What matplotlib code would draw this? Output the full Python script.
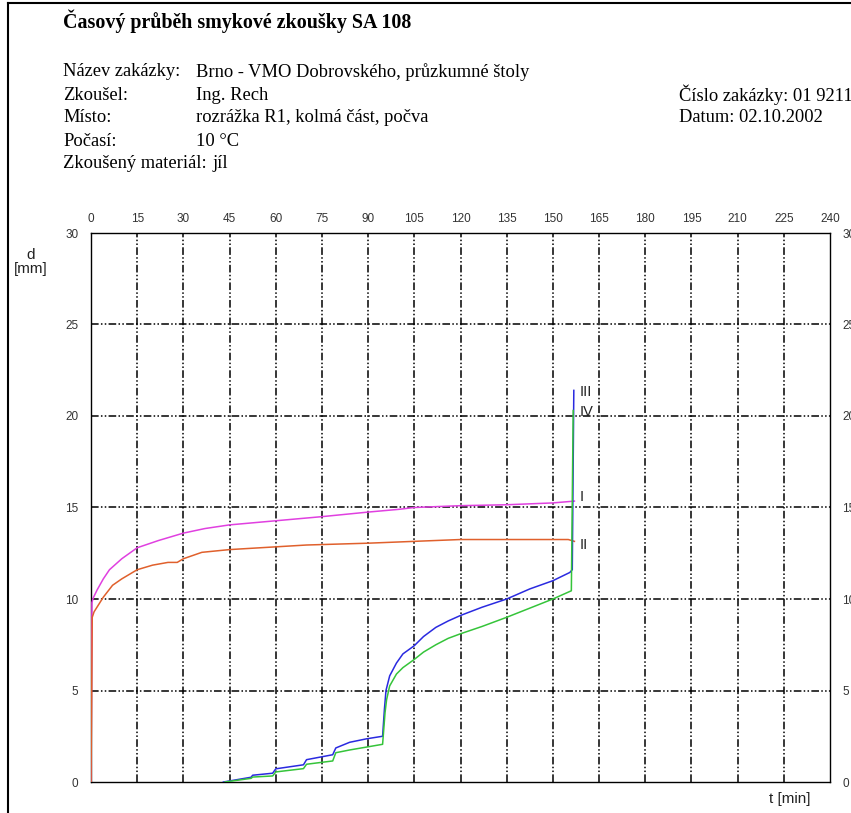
import numpy as np
import matplotlib.pyplot as plt
from matplotlib.lines import Line2D

# time [min] and displacement d [mm]
t_I = [0, 0.3, 0.7, 2, 4, 6, 10, 15, 22, 30, 37, 45, 55, 65, 75, 90, 100, 105, 120, 135, 150, 157]
d_I = [0, 9.8, 10.05, 10.5, 11.1, 11.6, 12.2, 12.8, 13.2, 13.6, 13.85, 14.05, 14.2, 14.35, 14.5, 14.75, 14.9, 15.0, 15.1, 15.15, 15.25, 15.35]

t_II = [0, 0.4, 1, 2.5, 4, 7, 10, 15, 20, 25, 28, 30, 36, 45, 55, 70, 90, 105, 120, 135, 150, 155, 157]
d_II = [0, 9.0, 9.3, 9.7, 10.1, 10.75, 11.1, 11.6, 11.85, 12.0, 12.0, 12.2, 12.55, 12.7, 12.8, 12.95, 13.05, 13.15, 13.25, 13.25, 13.25, 13.25, 13.15]

t_III = [43, 52, 52.5, 59, 60, 69, 70, 78.5, 79.5, 84, 89.5, 94.7, 95.3, 95.8, 97, 99.2, 101.3, 105, 108, 112, 116,
         120, 127, 135, 142.5, 150, 155.5, 156.3, 156.8]
d_III = [0, 0.26, 0.37, 0.48, 0.72, 0.94, 1.22, 1.49, 1.86, 2.17, 2.36, 2.5, 4.0, 5.0, 5.8, 6.5, 7.0, 7.45, 7.95, 8.45, 8.8,
         9.1, 9.55, 10.0, 10.55, 11.0, 11.45, 11.6, 21.4]

t_IV = [43.5, 52, 52.5, 59, 60, 69, 70, 78.5, 79.5, 84, 94.7, 95.5, 96, 97, 99.2, 101.3, 105, 108, 112, 116,
        120, 127, 135, 142.5, 150, 156, 156.6]
d_IV = [0, 0.2, 0.27, 0.33, 0.55, 0.73, 0.97, 1.15, 1.6, 1.75, 2.06, 3.8, 4.5, 5.25, 5.9, 6.25, 6.7, 7.1, 7.5, 7.85,
        8.1, 8.5, 9.0, 9.5, 10.0, 10.45, 20.3]

x_ticks = list(range(0, 241, 15))
y_ticks = [0, 5, 10, 15, 20, 25, 30]

header_labels = ['Název zakázky:', 'Zkoušel:', 'Místo:', 'Počasí:', 'Zkoušený materiál:']
header_values = ['Brno - VMO Dobrovského, průzkumné štoly', 'Ing. Rech', 'rozrážka R1, kolmá část, počva',
                 '10 °C', 'jíl']

W, H = 851, 813
fig = plt.figure(figsize=(W / 100, H / 100), dpi=100)
ax = fig.add_axes([91 / W, 1 - 782 / H, (830 - 91) / W, (782 - 233) / H])

ax.set_xlim(0, 240)
ax.set_ylim(0, 30)

grid_ls = (0, (5, 1.5, 1, 1.5, 1, 1.5))
for x in x_ticks[1:-1]:
    ax.axvline(x, color='black', lw=1.1, ls=grid_ls, zorder=1)
for y in y_ticks[1:-1]:
    ax.axhline(y, color='black', lw=1.1, ls=grid_ls, zorder=1)

ax.plot(t_I, d_I, color='#e040e0', lw=1.1, zorder=3)
ax.plot(t_II, d_II, color='#e0602c', lw=1.1, zorder=3)
ax.plot(t_III, d_III, color='#2a2ae0', lw=1.1, zorder=3)
ax.plot(t_IV, d_IV, color='#35c43a', lw=1.1, zorder=4)

lab_kw = dict(fontsize=10.5, family='Liberation Sans', ha='left', va='center', color='#222222')
ax.text(158.8, 21.3, 'III', **lab_kw)
ax.text(158.8, 20.2, 'IV', **lab_kw)
ax.text(158.8, 15.55, 'I', **lab_kw)
ax.text(158.8, 12.95, 'II', **lab_kw)

ax.set_xticks(x_ticks)
ax.set_yticks(y_ticks)
ax.xaxis.tick_top()
ax.tick_params(axis='both', length=0, labelsize=8.5, colors='#333333')
ax.tick_params(axis='x', pad=6)
ax.tick_params(axis='y', pad=9, labelright=True)
for lbl in ax.get_xticklabels() + ax.get_yticklabels():
    lbl.set_family('Liberation Sans')
for s in ax.spines.values():
    s.set_linewidth(1.0)

fig.text(31 / W, 1 - 262 / H, 'd\n[mm]', ha='center', va='center', fontsize=11,
         family='Liberation Sans', linespacing=1.05, color='#222222')
fig.text(790 / W, 1 - 799 / H, 't [min]', ha='center', va='center', fontsize=11,
         family='Liberation Sans', color='#222222')

# header
fig.text(63 / W, 1 - 21 / H, 'Časový průběh smykové zkoušky SA 108', fontsize=14.4, fontweight='bold',
         family='Liberation Serif', va='center')
rows_y = [72, 95, 118, 141, 164]
val_x = [196, 196, 196, 196, 212]
for lab, val, y, vx in zip(header_labels, header_values, rows_y, val_x):
    fig.text(63 / W, 1 - y / H, lab, fontsize=13.3, family='Liberation Serif', va='center')
    fig.text(vx / W, 1 - y / H, val, fontsize=13.3, family='Liberation Serif', va='center')
fig.text(679 / W, 1 - 95 / H, 'Číslo zakázky: 01 9211', fontsize=13.3, family='Liberation Serif', va='center')
fig.text(679 / W, 1 - 118 / H, 'Datum: 02.10.2002', fontsize=13.3, family='Liberation Serif', va='center')

# page frame
fig.add_artist(Line2D([8 / W, 8 / W], [0, 1 - 3 / H], color='black', lw=1.5))
fig.add_artist(Line2D([8 / W, 1], [1 - 3 / H, 1 - 3 / H], color='black', lw=1.5))

fig.savefig('out.png', dpi=100)
